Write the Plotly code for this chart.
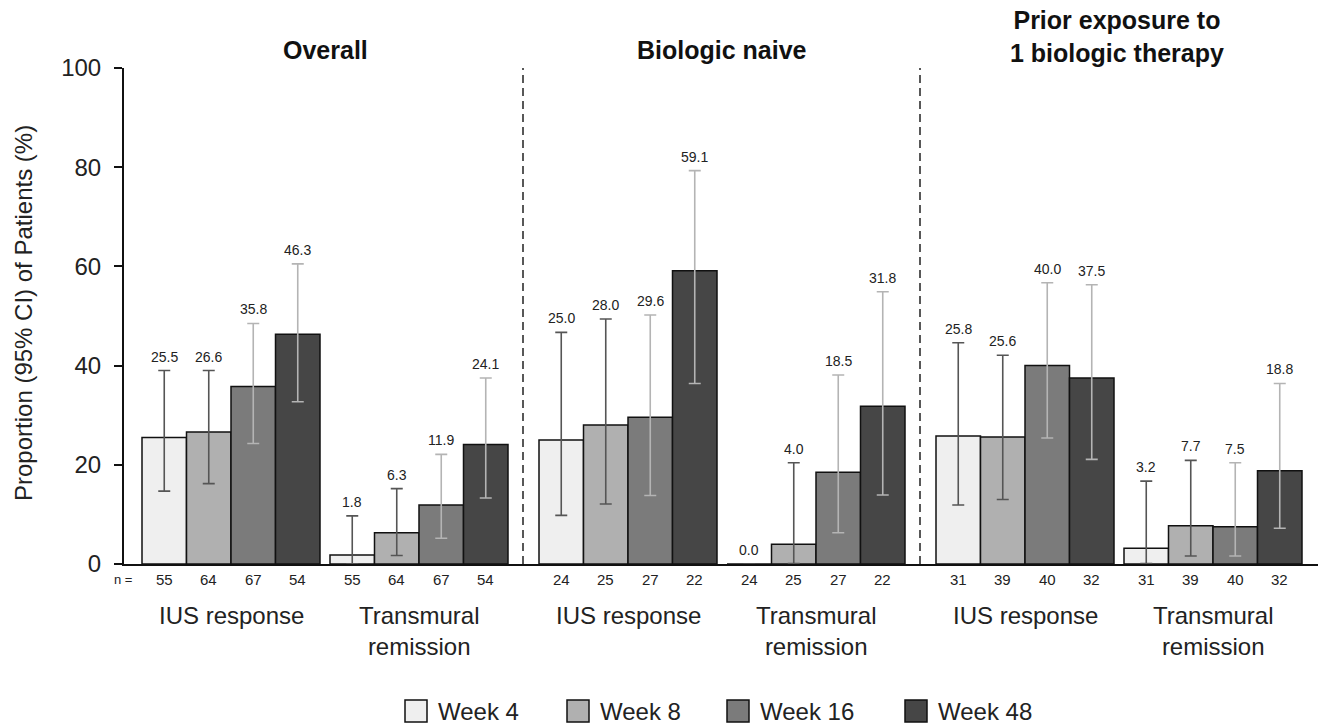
import plotly.graph_objects as go

# ---------------- data ----------------
weeks = ["Week 4", "Week 8", "Week 16", "Week 48"]
panel_titles = ["Overall", "Biologic naive", "Prior exposure to<br>1 biologic therapy"]
endpoint_labels = ["IUS response", "Transmural<br>remission"]

overall_ius = [25.5, 26.6, 35.8, 46.3]
overall_ius_lo = [14.7, 16.2, 24.3, 32.7]
overall_ius_hi = [39.0, 39.0, 48.5, 60.5]
overall_ius_n = [55, 64, 67, 54]

overall_tr = [1.8, 6.3, 11.9, 24.1]
overall_tr_lo = [0.05, 1.7, 5.2, 13.3]
overall_tr_hi = [9.7, 15.2, 22.1, 37.5]
overall_tr_n = [55, 64, 67, 54]

naive_ius = [25.0, 28.0, 29.6, 59.1]
naive_ius_lo = [9.8, 12.1, 13.8, 36.4]
naive_ius_hi = [46.7, 49.4, 50.2, 79.3]
naive_ius_n = [24, 25, 27, 22]

naive_tr = [0.0, 4.0, 18.5, 31.8]
naive_tr_lo = [0.0, 0.1, 6.3, 13.9]
naive_tr_hi = [0.0, 20.4, 38.1, 54.9]
naive_tr_n = [24, 25, 27, 22]

prior_ius = [25.8, 25.6, 40.0, 37.5]
prior_ius_lo = [11.9, 13.0, 25.4, 21.1]
prior_ius_hi = [44.6, 42.1, 56.7, 56.3]
prior_ius_n = [31, 39, 40, 32]

prior_tr = [3.2, 7.7, 7.5, 18.8]
prior_tr_lo = [0.1, 1.6, 1.6, 7.2]
prior_tr_hi = [16.7, 20.9, 20.4, 36.4]
prior_tr_n = [31, 39, 40, 32]

groups = [
    (overall_ius, overall_ius_lo, overall_ius_hi, overall_ius_n),
    (overall_tr, overall_tr_lo, overall_tr_hi, overall_tr_n),
    (naive_ius, naive_ius_lo, naive_ius_hi, naive_ius_n),
    (naive_tr, naive_tr_lo, naive_tr_hi, naive_tr_n),
    (prior_ius, prior_ius_lo, prior_ius_hi, prior_ius_n),
    (prior_tr, prior_tr_lo, prior_tr_hi, prior_tr_n),
]

# ---------------- layout / style ----------------
W, H = 1334, 726
L, R, T, B = 124, 16, 68, 162
PW, PH = W - L - R, H - T - B

BAR_W = 44.5
group_centers = [107, 295, 504, 692, 901, 1089]  # x-axis units (= pixels from y axis)
panel_centers = [201, 598, 993]
separators = [399, 796]

fills = ["#efefef", "#b0b0b0", "#7b7b7b", "#464646"]
err_colors = ["#555555", "#555555", "#b4b4b4", "#b4b4b4"]
FONT = "Liberation Sans, Arial, Helvetica, sans-serif"


def xp(px):
    return (px - L) / PW


def yp(py):
    return (H - B - py) / PH


fig = go.Figure()
annotations = []

for w, wk in enumerate(weeks):
    xs, ys, up, dn = [], [], [], []
    for g, (vals, lo, hi, ns) in enumerate(groups):
        x = group_centers[g] + (w - 1.5) * BAR_W
        xs.append(x)
        ys.append(vals[w])
        up.append(hi[w] - vals[w] if hi[w] > 0 else 0)
        dn.append(vals[w] - lo[w] if hi[w] > 0 else 0)
        annotations.append(dict(x=x, y=hi[w], xref="x", yref="y", text=f"{vals[w]:.1f}",
                                showarrow=False, yanchor="middle", yshift=14,
                                font=dict(size=14, color="#222222", family=FONT)))
        annotations.append(dict(x=x, y=0, xref="x", yref="y", text=str(ns[w]),
                                showarrow=False, yanchor="middle", yshift=-15,
                                font=dict(size=15, color="#222222", family=FONT)))
    fig.add_trace(go.Bar(
        x=xs, y=ys, width=BAR_W, name=wk, showlegend=False,
        marker=dict(color=fills[w], line=dict(color="#111111", width=1.5)),
        error_y=dict(type="data", symmetric=False, array=up, arrayminus=dn,
                     color=err_colors[w], thickness=1.6, width=6),
    ))

annotations.append(dict(x=xp(123), y=yp(579), xref="paper", yref="paper", text="n =",
                        showarrow=False, xanchor="center", yanchor="middle",
                        font=dict(size=13, color="#222222", family=FONT)))

for g, c in enumerate(group_centers):
    annotations.append(dict(x=c, y=0, xref="x", yref="y", text=endpoint_labels[g % 2],
                            showarrow=False, yanchor="top", yshift=-36,
                            font=dict(size=24, color="#222222", family=FONT)))

title_shift = [18, 18, 32]
for p, c in enumerate(panel_centers):
    annotations.append(dict(x=c, y=100, xref="x", yref="y", text=f"<b>{panel_titles[p]}</b>",
                            showarrow=False, yanchor="middle", yshift=title_shift[p],
                            font=dict(size=25, color="#111111", family=FONT)))

annotations.append(dict(x=xp(23), y=yp(313), xref="paper", yref="paper",
                        text="Proportion (95% CI) of Patients (%)", textangle=-90,
                        showarrow=False, xanchor="center", yanchor="middle",
                        font=dict(size=24, color="#222222", family=FONT)))

shapes = []
for s in separators:
    shapes.append(dict(type="line", xref="x", yref="y", x0=s, x1=s, y0=0, y1=100,
                       line=dict(color="#222222", width=1.5, dash="8px,5px")))

# manual legend
legend_x = [405, 567, 727, 905]
for w, wk in enumerate(weeks):
    x0 = legend_x[w]
    shapes.append(dict(type="rect", xref="paper", yref="paper",
                       x0=xp(x0), x1=xp(x0 + 22), y0=yp(722), y1=yp(700),
                       fillcolor=fills[w], line=dict(color="#111111", width=1.5)))
    annotations.append(dict(x=xp(x0 + 31), y=yp(711), xref="paper", yref="paper",
                            text=wk, showarrow=False, xanchor="left", yanchor="middle",
                            font=dict(size=24, color="#222222", family=FONT)))

fig.update_layout(
    width=W, height=H,
    margin=dict(l=L, r=R, t=T, b=B, pad=0),
    paper_bgcolor="white", plot_bgcolor="white",
    barmode="overlay",
    font=dict(family=FONT, color="#222222"),
    xaxis=dict(range=[0, PW], showgrid=False, zeroline=False, showticklabels=False,
               ticks="", showline=True, linecolor="#111111", linewidth=2, fixedrange=True),
    yaxis=dict(range=[0, 100], tickvals=[0, 20, 40, 60, 80, 100], showgrid=False,
               zeroline=False, showline=True, linecolor="#111111", linewidth=2,
               ticks="outside", ticklen=8, tickwidth=2, tickcolor="#111111",
               ticklabelstandoff=8,
               tickfont=dict(size=24, color="#222222", family=FONT)),
    annotations=annotations,
    shapes=shapes,
)

fig.write_html("out.html")
